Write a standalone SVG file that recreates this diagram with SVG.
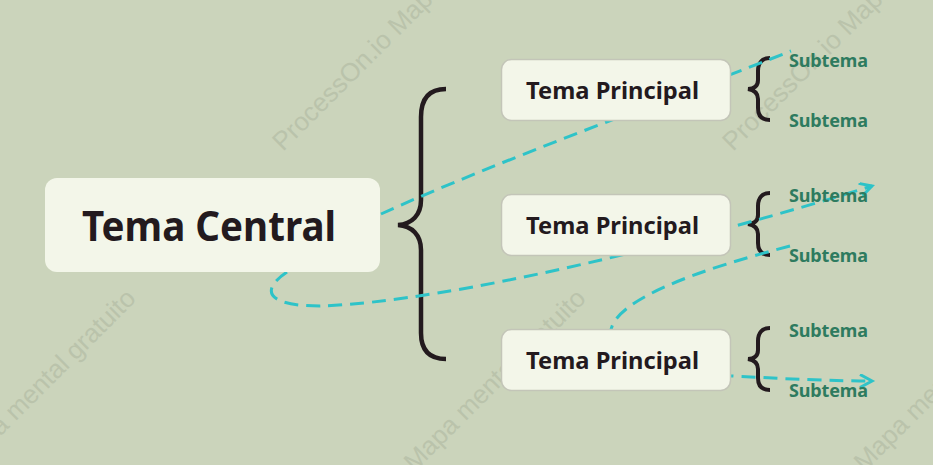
<svg xmlns="http://www.w3.org/2000/svg" width="933" height="465" viewBox="0 0 933 465">
<style>
.wm{font-family:"Liberation Sans",Arial,sans-serif;font-size:26px;fill:#BAC3AB}
.box{fill:#F3F6E9}
.tbox{fill:#F3F6E9;stroke:#C3C5B8;stroke-width:1.5}
.ct{font-family:"Noto Sans","Open Sans",sans-serif;font-weight:bold;font-size:41px;fill:#231A1E}
.tt{font-family:"Noto Sans","Open Sans",sans-serif;font-weight:bold;font-size:24px;fill:#231A1E}
.st{font-family:"Noto Sans","Open Sans",sans-serif;font-weight:bold;font-size:18px;fill:#2E7B5F}
.brace{fill:none;stroke:#231A1E;stroke-width:4.5;stroke-linecap:butt}
.sbrace{fill:none;stroke:#231A1E;stroke-width:4}
.conn{fill:none;stroke:#2EC3C8;stroke-width:3;stroke-dasharray:14 8}
</style>
<defs>
<marker id="arr" markerUnits="userSpaceOnUse" markerWidth="18" markerHeight="18" refX="13" refY="7" orient="auto">
<path d="M1,0.5 L13,7 L1,13.5" fill="none" stroke="#2EC3C8" stroke-width="3"/>
</marker>
</defs>
<rect x="0" y="0" width="933" height="465" fill="#CBD4BB"/>
<g id="watermarks">
<text class="wm" transform="translate(283,152) rotate(-45)">ProcessOn.io Mapa mental gratuito</text>
<text class="wm" transform="translate(733,152) rotate(-45)">ProcessOn.io Mapa mental gratuito</text>
<text class="wm" transform="translate(-151,588) rotate(-45)">ProcessOn.io Mapa mental gratuito</text>
<text class="wm" transform="translate(299,588) rotate(-45)">ProcessOn.io Mapa mental gratuito</text>
<text class="wm" transform="translate(749,588) rotate(-45)">ProcessOn.io Mapa mental gratuito</text>
</g>
<g id="braces">
<path class="brace" d="M446,89 C430,89 421,98 421,117 L421,200 C421,215 412,224 398,225 C412,226 421,235 421,250 L421,333 C421,351 430,359 446,359"/>
<path class="sbrace" d="M770,58 C762,58 758,63 758,71 L758,80 C758,86 754,89 748,89 C754,90 758,93 758,99 L758,108 C758,116 762,120 770,120"/>
<path class="sbrace" d="M770,193 C762,193 758,198 758,206 L758,215 C758,221 754,224 748,224 C754,225 758,228 758,234 L758,243 C758,251 762,255 770,255"/>
<path class="sbrace" d="M770,328 C762,328 758,333 758,341 L758,350 C758,356 754,359 748,359 C754,360 758,363 758,369 L758,378 C758,386 762,390 770,390"/>
</g>
<g id="connectors">
<path class="conn" d="M381,214 C500,160 680,95 791,51"/>
<path class="conn" d="M287,272 C260,290 266,306 320,306 C450,302 700,240 872,186" marker-end="url(#arr)"/>
<path class="conn" d="M790,246 C705,268 628,295 613,324 C600,350 640,372 732,376 C790,379 830,381 872,381" marker-end="url(#arr)"/>
</g>
<g id="central">
<rect class="box" x="45" y="178" width="335" height="94" rx="12"/>
<text class="ct" x="82" y="241" textLength="254" lengthAdjust="spacingAndGlyphs">Tema Central</text>
</g>
<g id="topic1">
<rect class="tbox" x="501.5" y="59.5" width="229" height="61" rx="10"/>
<text class="tt" x="526" y="98.5" textLength="173" lengthAdjust="spacingAndGlyphs">Tema Principal</text>
</g>
<g id="topic2">
<rect class="tbox" x="501.5" y="194.5" width="229" height="61" rx="10"/>
<text class="tt" x="526" y="233.5" textLength="173" lengthAdjust="spacingAndGlyphs">Tema Principal</text>
</g>
<g id="topic3">
<rect class="tbox" x="501.5" y="329.5" width="229" height="61" rx="10"/>
<text class="tt" x="526" y="368.5" textLength="173" lengthAdjust="spacingAndGlyphs">Tema Principal</text>
</g>
<g id="subtopics">
<text class="st" x="789" y="66.7" textLength="79">Subtema</text>
<text class="st" x="789" y="126.7" textLength="79">Subtema</text>
<text class="st" x="789" y="201.7" textLength="79">Subtema</text>
<text class="st" x="789" y="261.7" textLength="79">Subtema</text>
<text class="st" x="789" y="336.7" textLength="79">Subtema</text>
<text class="st" x="789" y="396.7" textLength="79">Subtema</text>
</g>
</svg>
